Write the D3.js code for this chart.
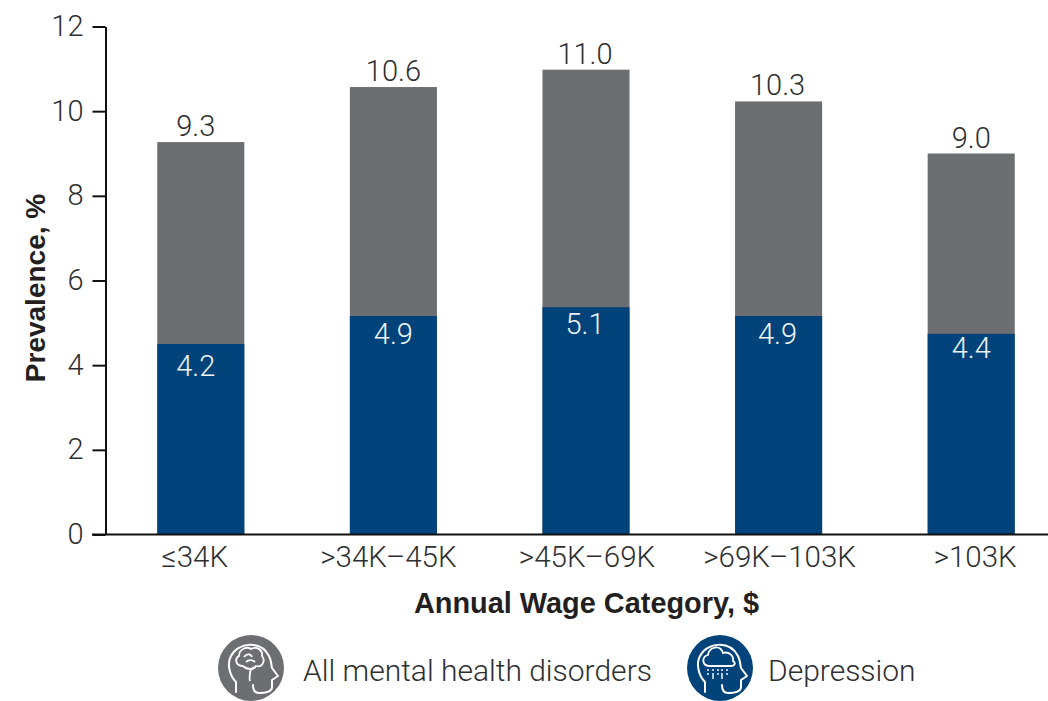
<!DOCTYPE html>
<html>
<head>
<meta charset="utf-8">
<script src="https://cdn.jsdelivr.net/npm/d3@7"></script>
<style>
  html, body { margin: 0; padding: 0; background: #fff; }
  text { font-family: Roboto, "Liberation Sans", sans-serif; font-weight: 300; fill: #2e2f31; }
  text.title { font-family: "Liberation Sans", Arial, sans-serif; font-weight: bold; fill: #231f20; }
</style>
</head>
<body>
<svg id="chart"></svg>
<script>
var categories = ["≤34K", ">34K–45K", ">45K–69K", ">69K–103K", ">103K"];
// bar heights as drawn, the printed labels don't quite line up with them
var allHeights = [9.27, 10.57, 10.98, 10.23, 9.0];
var depHeights = [4.5, 5.16, 5.37, 5.16, 4.74];
var allLabels = ["9.3", "10.6", "11.0", "10.3", "9.0"];
var depLabels = ["4.2", "4.9", "5.1", "4.9", "4.4"];
var yTicks = [0, 2, 4, 6, 8, 10, 12];
var legendNames = ["All mental health disorders", "Depression"];

var grey = "#6d6e71", blue = "#00437a";

var width = 1048, height = 701;
var svg = d3.select("#chart")
  .attr("width", width)
  .attr("height", height)
  .style("display", "block");

var x = d3.scaleBand()
  .domain(categories)
  .range([104.5, 1067.5])
  .paddingInner(0.548)
  .paddingOuter(0.274);

var y = d3.scaleLinear()
  .domain([0, 12])
  .range([534.5, 26.5]);

// grey bars
svg.append("g")
  .selectAll("rect")
  .data(categories)
  .enter()
  .append("rect")
    .attr("x", d => x(d))
    .attr("width", x.bandwidth())
    .attr("y", (d, i) => y(allHeights[i]))
    .attr("height", (d, i) => y(0) - y(allHeights[i]))
    .attr("fill", grey);

// blue bars
svg.append("g")
  .selectAll("rect")
  .data(categories)
  .enter()
  .append("rect")
    .attr("x", d => x(d))
    .attr("width", x.bandwidth())
    .attr("y", (d, i) => y(depHeights[i]))
    .attr("height", (d, i) => y(0) - y(depHeights[i]))
    .attr("fill", blue);

// y axis
var yAxis = svg.append("g")
  .attr("transform", "translate(105.5,0)")
  .call(d3.axisLeft(y).tickValues(yTicks).tickSize(13).tickPadding(9).tickSizeOuter(0));
yAxis.select(".domain").attr("stroke", "#111").attr("stroke-width", 2);
yAxis.selectAll("line").attr("stroke", "#111").attr("stroke-width", 2);
yAxis.selectAll("text")
  .style("font-size", "29px")
  .attr("fill", null)
  .attr("dy", "0.31em");

// x axis, runs out to the edge of the picture
// tick labels are not quite centred under the bars in the original
var tickNudge = [-6, -5, 1, 1, 4];
var xAxis = svg.append("g")
  .attr("transform", "translate(0,534.5)")
  .call(d3.axisBottom(x).tickSize(0).tickPadding(12));
xAxis.select(".domain")
  .attr("d", "M92,0H" + width)
  .attr("stroke", "#111")
  .attr("stroke-width", 2);
xAxis.selectAll("text")
  .style("font-size", "29.5px")
  .attr("fill", null)
  .attr("dx", (d, i) => tickNudge[i])
  .attr("dy", "0.71em");

// value labels, the first column sits a bit left of its bar
var labelNudge = [-5, 0, -1, -1, 0];
svg.append("g")
  .selectAll("text")
  .data(categories)
  .enter()
  .append("text")
    .attr("x", (d, i) => x(d) + x.bandwidth() / 2 + labelNudge[i])
    .attr("y", (d, i) => y(allHeights[i]) - 6)
    .attr("text-anchor", "middle")
    .style("font-size", "29px")
    .text((d, i) => allLabels[i]);

// the white labels sit at uneven distances below the blue tops in the original
var depLabelGap = [32, 28, 27, 28, 24];
svg.append("g")
  .selectAll("text")
  .data(categories)
  .enter()
  .append("text")
    .attr("x", (d, i) => x(d) + x.bandwidth() / 2 + labelNudge[i])
    .attr("y", (d, i) => y(depHeights[i]) + depLabelGap[i])
    .attr("text-anchor", "middle")
    .style("font-size", "29px")
    .style("fill", "#eef3f7")
    .text((d, i) => depLabels[i]);

// axis titles
svg.append("text")
  .attr("class", "title")
  .attr("transform", "translate(45,288) rotate(-90)")
  .attr("text-anchor", "middle")
  .style("font-size", "28px")
  .text("Prevalence, %");

svg.append("text")
  .attr("class", "title")
  .attr("x", 586.5)
  .attr("y", 613)
  .attr("text-anchor", "middle")
  .style("font-size", "28.9px")
  .text("Annual Wage Category, $");

// legend head icons, outline is the same for both
var headPath = "M-15,24 V14 C-22,7 -24,-5 -20,-12 C-13,-26 10,-28 18,-12 C21,-6 20,-3 21,0 L27,8 L21,12 V19 C21,24 15,25 8,25 C4,25 2,23 2,17";

function drawIcon(cx, cy, fill) {
  var g = svg.append("g").attr("transform", "translate(" + cx + "," + cy + ")");
  g.append("circle").attr("r", 33).attr("fill", fill);
  g.append("path")
    .attr("d", headPath)
    .attr("fill", "none")
    .attr("stroke", "#fff")
    .attr("stroke-width", 2)
    .attr("stroke-linecap", "round")
    .attr("stroke-linejoin", "round");
  return g;
}

var brain = drawIcon(251, 668, grey);
brain.append("path")
  .attr("d", "M-8,-2 C-15,-2 -17,-9 -12,-12 C-12,-19 -4,-22 0,-19 C6,-22 12,-18 11,-12 C15,-7 11,0 5,-2 C3,2 -4,2 -8,-2 M-7,-11 C-4,-15 0,-14 1,-11 M-5,-6 C-2,-9 2,-8 4,-6 M3,-1 C0,1 -1,2 -1,5 C-1,8 -2,10 -1,13")
  .attr("fill", "none")
  .attr("stroke", "#fff")
  .attr("stroke-width", 1.8);

var cloud = drawIcon(720, 668, blue);
cloud.append("path")
  .attr("d", "M-10,-2 C-18,-2 -19,-11 -12,-13 C-11,-21 0,-24 3,-15 C9,-17 14,-12 13,-7 C16,-5 15,-2 11,-2 Z")
  .attr("fill", "none")
  .attr("stroke", "#fff")
  .attr("stroke-width", 1.8);
cloud.append("path")
  .attr("d", "M-12,1 V3 M-12,5 V7 M-7,1 V3 M-7,5 V11 M-2,1 V3 M-2,5 V7 M2,1 V3 M2,5 V11 M7,1 V3 M7,5 V7")
  .attr("fill", "none")
  .attr("stroke", "#fff")
  .attr("stroke-width", 1.4);

// legend labels
svg.append("text")
  .attr("x", 303)
  .attr("y", 681)
  .style("font-size", "30px")
  .text(legendNames[0]);
svg.append("text")
  .attr("x", 768)
  .attr("y", 681)
  .style("font-size", "30px")
  .text(legendNames[1]);
</script>
</body>
</html>
